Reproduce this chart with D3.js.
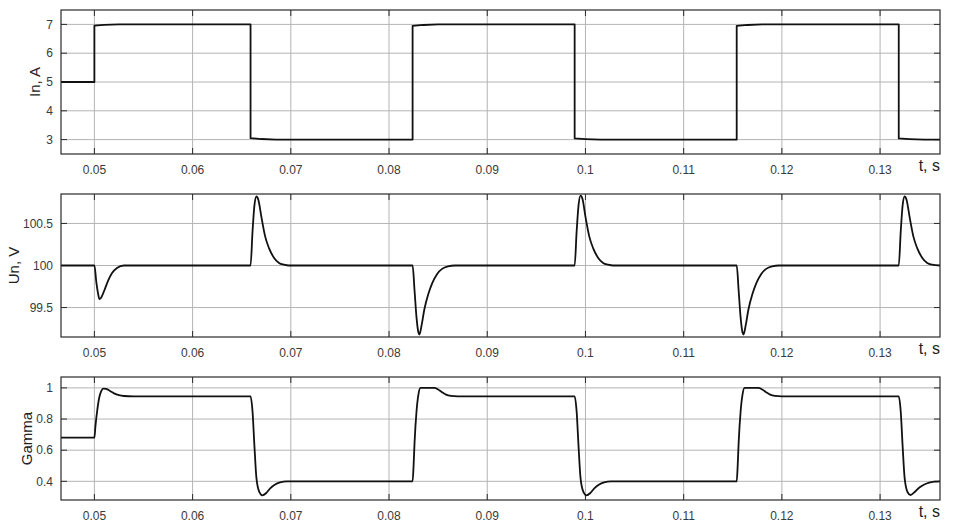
<!DOCTYPE html>
<html>
<head>
<meta charset="utf-8">
<script src="https://cdn.jsdelivr.net/npm/d3@7"></script>
<style>
  html, body { margin: 0; padding: 0; background: #fff; }
  svg { display: block; font-family: "Liberation Sans", Arial, sans-serif; }
</style>
</head>
<body>
<div id="chart"></div>
<script>
// time axis
const tDomain = [0.0466, 0.1361];
const tTicks = [0.05, 0.06, 0.07, 0.08, 0.09, 0.10, 0.11, 0.12, 0.13];
const tTickLabels = ["0.05", "0.06", "0.07", "0.08", "0.09", "0.1", "0.11", "0.12", "0.13"];

// load current In, A  [t, value]
const currentIn = [
  [0.0466, 5.0], [0.0500, 5.0], [0.0500, 6.96], [0.0510, 6.98], [0.0525, 7.0],
  [0.0659, 7.0], [0.0659, 3.05], [0.0670, 3.02], [0.0685, 3.0],
  [0.0824, 3.0], [0.0824, 6.95], [0.0835, 6.98], [0.0850, 7.0],
  [0.0989, 7.0], [0.0989, 3.04], [0.1000, 3.02], [0.1015, 3.0],
  [0.1154, 3.0], [0.1154, 6.95], [0.1165, 6.98], [0.1180, 7.0],
  [0.1319, 7.0], [0.1319, 3.04], [0.1330, 3.02], [0.1345, 3.0], [0.1361, 3.0]
];
const currentTicks = [3, 4, 5, 6, 7];
const currentTickLabels = ["3", "4", "5", "6", "7"];

// load voltage Un, V
const voltageUn = [
  [0.0466, 100], [0.0500, 100], [0.0502, 99.8], [0.0504, 99.65], [0.0505, 99.6], [0.0507, 99.62],
  [0.0510, 99.7], [0.0514, 99.82], [0.0518, 99.91], [0.0523, 99.97], [0.0530, 100],
  [0.0659, 100], [0.0661, 100.4], [0.0663, 100.72], [0.0665, 100.82], [0.0667, 100.78], [0.0670, 100.58],
  [0.0674, 100.34], [0.0678, 100.2], [0.0683, 100.09], [0.0688, 100.03], [0.0693, 100.01], [0.0698, 100],
  [0.0824, 100], [0.0826, 99.7], [0.0828, 99.38], [0.0830, 99.2], [0.0831, 99.18], [0.0833, 99.28],
  [0.0836, 99.48], [0.0840, 99.66], [0.0844, 99.79], [0.0849, 99.9], [0.0854, 99.96], [0.0860, 99.99], [0.0867, 100],
  [0.0989, 100], [0.0991, 100.4], [0.0993, 100.72], [0.0995, 100.83], [0.0997, 100.79], [0.1000, 100.58],
  [0.1004, 100.34], [0.1008, 100.2], [0.1013, 100.09], [0.1018, 100.03], [0.1023, 100.01], [0.1028, 100],
  [0.1154, 100], [0.1156, 99.7], [0.1158, 99.38], [0.1160, 99.2], [0.1161, 99.18], [0.1163, 99.28],
  [0.1166, 99.48], [0.1170, 99.66], [0.1174, 99.79], [0.1179, 99.9], [0.1184, 99.96], [0.1190, 99.99], [0.1197, 100],
  [0.1319, 100], [0.1321, 100.4], [0.1323, 100.72], [0.1325, 100.82], [0.1327, 100.78], [0.1330, 100.58],
  [0.1334, 100.34], [0.1338, 100.2], [0.1343, 100.09], [0.1348, 100.03], [0.1353, 100.01], [0.1361, 100]
];
const voltageTicks = [99.5, 100, 100.5];
const voltageTickLabels = ["99.5", "100", "100.5"];

// duty cycle Gamma
const gamma = [
  [0.0466, 0.68], [0.0500, 0.68], [0.0501, 0.75], [0.0503, 0.86], [0.0505, 0.94], [0.0507, 0.98],
  [0.0509, 0.995], [0.0512, 0.993], [0.0516, 0.98], [0.0520, 0.965], [0.0525, 0.953], [0.0530, 0.948], [0.0540, 0.946],
  [0.0659, 0.946], [0.0661, 0.85], [0.0663, 0.62], [0.0665, 0.42], [0.0668, 0.33], [0.0671, 0.31],
  [0.0675, 0.325], [0.0679, 0.355], [0.0684, 0.38], [0.0689, 0.393], [0.0696, 0.40],
  [0.0824, 0.40], [0.0825, 0.5], [0.0826, 0.65], [0.0828, 0.85], [0.0830, 0.96], [0.0832, 1.0],
  [0.0846, 1.0], [0.0850, 0.99], [0.0854, 0.972], [0.0858, 0.957], [0.0863, 0.949], [0.0870, 0.946],
  [0.0989, 0.946], [0.0991, 0.85], [0.0993, 0.62], [0.0995, 0.42], [0.0998, 0.33], [0.1001, 0.31],
  [0.1005, 0.325], [0.1009, 0.355], [0.1014, 0.38], [0.1019, 0.393], [0.1026, 0.40],
  [0.1154, 0.40], [0.1155, 0.5], [0.1156, 0.65], [0.1158, 0.85], [0.1160, 0.96], [0.1162, 1.0],
  [0.1176, 1.0], [0.1180, 0.99], [0.1184, 0.972], [0.1188, 0.957], [0.1193, 0.949], [0.1200, 0.946],
  [0.1319, 0.946], [0.1321, 0.85], [0.1323, 0.62], [0.1325, 0.42], [0.1328, 0.33], [0.1331, 0.312],
  [0.1335, 0.33], [0.1340, 0.36], [0.1345, 0.38], [0.1350, 0.392], [0.1356, 0.398], [0.1361, 0.40]
];
const gammaTicks = [0.4, 0.6, 0.8, 1];
const gammaTickLabels = ["0.4", "0.6", "0.8", "1"];

const width = 957;
const height = 528;
const left = 61, right = 940;

const panels = [
  { data: currentIn, ticks: currentTicks, labels: currentTickLabels, domain: [2.5, 7.5],
    top: 10, bottom: 154, title: "In, A", titleX: 35, curve: d3.curveLinear },
  { data: voltageUn, ticks: voltageTicks, labels: voltageTickLabels, domain: [99.15, 100.85],
    top: 194, bottom: 337, title: "Un, V", titleX: 14, curve: d3.curveMonotoneX },
  { data: gamma, ticks: gammaTicks, labels: gammaTickLabels, domain: [0.28, 1.07],
    top: 377, bottom: 500, title: "Gamma", titleX: 27, curve: d3.curveMonotoneX }
];

const svg = d3.select("#chart")
  .append("svg")
  .attr("width", width)
  .attr("height", height);

const x = d3.scaleLinear().domain(tDomain).range([left, right]);

const gridColor = "#b4b4b4";
const frameColor = "#2a2a2a";
const textColor = "#3a3a3a";
const tickLen = 6;

panels.forEach((p) => {
  const y = d3.scaleLinear().domain(p.domain).range([p.bottom, p.top]);
  const g = svg.append("g");

  // grid
  g.append("g")
    .selectAll("line")
    .data(tTicks)
    .join("line")
    .attr("x1", (d) => x(d)).attr("x2", (d) => x(d))
    .attr("y1", p.top).attr("y2", p.bottom)
    .attr("stroke", gridColor).attr("stroke-width", 1);

  g.append("g")
    .selectAll("line")
    .data(p.ticks)
    .join("line")
    .attr("x1", left).attr("x2", right)
    .attr("y1", (d) => y(d)).attr("y2", (d) => y(d))
    .attr("stroke", gridColor).attr("stroke-width", 1);

  // inward tick marks
  const tk = g.append("g").attr("stroke", frameColor).attr("stroke-width", 1);
  p.ticks.forEach((v) => {
    tk.append("line").attr("x1", left).attr("x2", left + tickLen).attr("y1", y(v)).attr("y2", y(v));
    tk.append("line").attr("x1", right - tickLen).attr("x2", right).attr("y1", y(v)).attr("y2", y(v));
  });
  tTicks.forEach((v) => {
    tk.append("line").attr("x1", x(v)).attr("x2", x(v)).attr("y1", p.bottom).attr("y2", p.bottom - tickLen);
    tk.append("line").attr("x1", x(v)).attr("x2", x(v)).attr("y1", p.top).attr("y2", p.top + tickLen);
  });

  // curve
  const line = d3.line()
    .x((d) => x(d[0]))
    .y((d) => y(d[1]))
    .curve(p.curve);

  g.append("path")
    .datum(p.data)
    .attr("fill", "none")
    .attr("stroke", "#111")
    .attr("stroke-width", 1.8)
    .attr("stroke-linejoin", "round")
    .attr("d", line);

  // frame
  g.append("rect")
    .attr("x", left).attr("y", p.top)
    .attr("width", right - left).attr("height", p.bottom - p.top)
    .attr("fill", "none")
    .attr("stroke", frameColor).attr("stroke-width", 1.2);

  // y tick labels
  g.append("g")
    .selectAll("text")
    .data(p.ticks)
    .join("text")
    .attr("x", left - 8)
    .attr("y", (d) => y(d))
    .attr("dy", "0.35em")
    .attr("text-anchor", "end")
    .attr("font-size", 12)
    .attr("fill", textColor)
    .text((d, i) => p.labels[i]);

  // x tick labels
  g.append("g")
    .selectAll("text")
    .data(tTicks)
    .join("text")
    .attr("x", (d) => x(d))
    .attr("y", p.bottom + 20)
    .attr("text-anchor", "middle")
    .attr("font-size", 12)
    .attr("fill", textColor)
    .text((d, i) => tTickLabels[i]);

  // axis titles
  g.append("text")
    .attr("transform", `translate(${p.titleX},${(p.top + p.bottom) / 2})rotate(-90)`)
    .attr("dy", "0.35em")
    .attr("text-anchor", "middle")
    .attr("font-size", 15)
    .attr("fill", "#222")
    .text(p.title);

  g.append("text")
    .attr("x", right)
    .attr("y", p.bottom + 17)
    .attr("text-anchor", "end")
    .attr("font-size", 16)
    .attr("fill", "#222")
    .text("t, s");
});
</script>
</body>
</html>
